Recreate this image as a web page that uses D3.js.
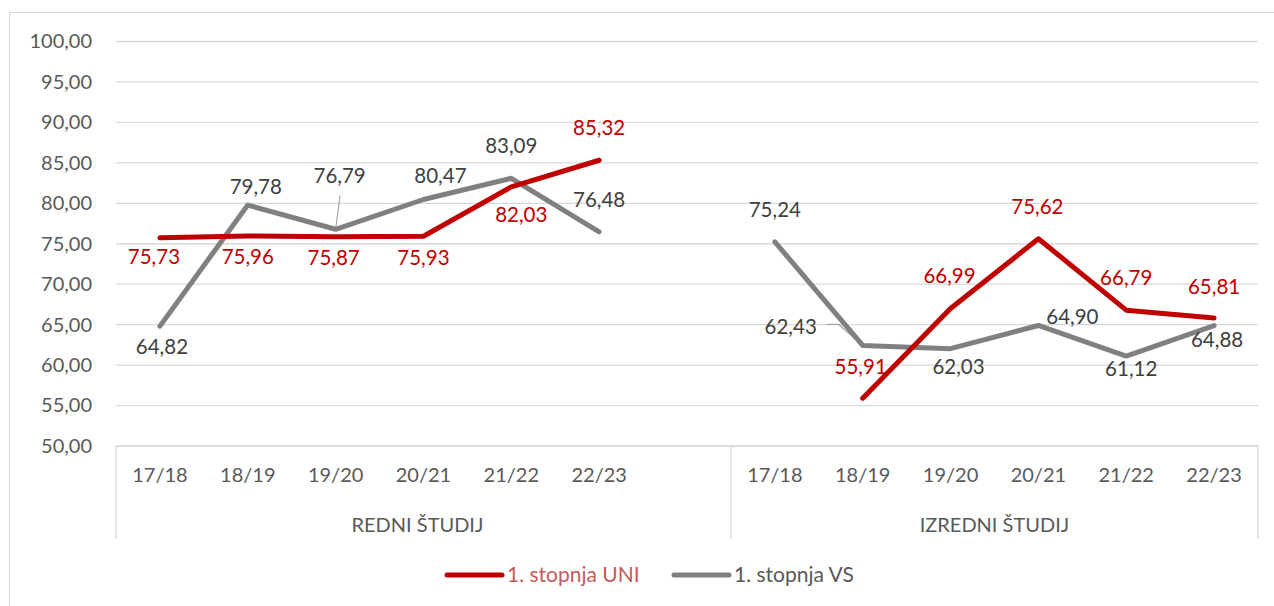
<!DOCTYPE html>
<html>
<head>
<meta charset="utf-8">
<script src="https://cdn.jsdelivr.net/npm/d3@7"></script>
<style>
  html, body { margin: 0; padding: 0; background: #fff; }
  svg { display: block; font-family: Lato, "Open Sans", sans-serif; }
</style>
</head>
<body>
<svg id="chart" width="1274" height="606"></svg>
<script>
// ---- data ----
const groups = ["REDNI ŠTUDIJ", "IZREDNI ŠTUDIJ"];
const years = ["17/18", "18/19", "19/20", "20/21", "21/22", "22/23"];
const uniRedni = [75.73, 75.96, 75.87, 75.93, 82.03, 85.32];
const uniIzredni = [null, 55.91, 66.99, 75.62, 66.79, 65.81];
const vsRedni = [64.82, 79.78, 76.79, 80.47, 83.09, 76.48];
const vsIzredni = [75.24, 62.43, 62.03, 64.90, 61.12, 64.88];
const yTicks = [50, 55, 60, 65, 70, 75, 80, 85, 90, 95, 100];
const seriesNames = ["1. stopnja UNI", "1. stopnja VS"];

// label offsets (px, relative to point) – layout only; [redni..., izredni...]
const uniOffsetsR = [[-6, 19], [0, 21], [-2, 21], [0, 22], [10, 28], [0, -32]];
const uniOffsetsI = [null, [-2, -31], [-1, -33], [-1, -32], [0, -32], [0, -31]];
const vsOffsetsR = [[2, 21], [8, -18], [4, -53], [17, -24], [0, -32], [0, -32]];
const vsOffsetsI = [[0, -32], [-72, -19], [8, 18], [34, -9], [5, 13], [3, 14]];

// ---- build slots: 6 redni + 1 empty + 6 izredni ----
const slots = [];
years.forEach((yr, i) => slots.push({ key: "R" + i, year: yr, uni: uniRedni[i], vs: vsRedni[i], uo: uniOffsetsR[i], vo: vsOffsetsR[i] }));
slots.push({ key: "gap", year: "", uni: null, vs: null, uo: null, vo: null });
years.forEach((yr, i) => slots.push({ key: "I" + i, year: yr, uni: uniIzredni[i], vs: vsIzredni[i], uo: uniOffsetsI[i], vo: vsOffsetsI[i] }));

const svg = d3.select("#chart");
const plotL = 116, plotR = 1258, plotT = 41.5, plotB = 446;

const x = d3.scaleBand().domain(slots.map(d => d.key)).range([plotL, plotR]).paddingInner(0).paddingOuter(0);
const cx = k => x(k) + x.bandwidth() / 2;
const y = d3.scaleLinear().domain([50, 100]).range([plotB, plotT]);

const fmt = v => d3.format(".2f")(v).replace(".", ",");

// frame
svg.append("rect").attr("x", 9.5).attr("y", 12.5).attr("width", 1280).attr("height", 600)
  .attr("fill", "none").attr("stroke", "#d9d9d9").attr("stroke-width", 1);

// gridlines
svg.append("g").selectAll("line").data(yTicks).join("line")
  .attr("x1", plotL).attr("x2", plotR)
  .attr("y1", d => y(d)).attr("y2", d => y(d))
  .attr("stroke", "#d9d9d9").attr("stroke-width", 1.3);

// y axis labels
const yAxis = d3.axisLeft(y).tickValues(yTicks).tickFormat(fmt).tickSize(0).tickPadding(24);
const yg = svg.append("g").attr("transform", `translate(${plotL},0)`).call(yAxis);
yg.select(".domain").remove();
yg.selectAll("text").attr("fill", "#595959").style("font-size", "20px").style("font-family", "Lato, sans-serif");

// category axis
const xAxis = d3.axisBottom(x).tickFormat(k => slots.find(s => s.key === k).year).tickSize(0).tickPadding(22);
const xg = svg.append("g").attr("transform", `translate(0,${plotB})`).call(xAxis);
xg.select(".domain").remove();
xg.selectAll("text").attr("fill", "#595959").style("font-size", "20px").style("font-family", "Lato, sans-serif");

// group separators
const sepX = [plotL, x("I0"), plotR];
svg.append("g").selectAll("line").data(sepX).join("line")
  .attr("x1", d => d).attr("x2", d => d).attr("y1", plotB).attr("y2", 539)
  .attr("stroke", "#d9d9d9").attr("stroke-width", 1.3);
svg.append("line").attr("x1", plotL).attr("x2", plotR).attr("y1", plotB).attr("y2", plotB)
  .attr("stroke", "#d9d9d9").attr("stroke-width", 1.3);

// group labels
const groupSpans = [[plotL, x("I0")], [x("I0"), plotR]];
svg.append("g").selectAll("text").data(groups).join("text")
  .attr("x", (d, i) => (groupSpans[i][0] + groupSpans[i][1]) / 2 - (i === 0 ? 6 : 0))
  .attr("y", 525).attr("dy", "0.35em").attr("text-anchor", "middle")
  .attr("fill", "#595959").style("font-size", "20px")
  .text(d => d);

// lines
const colors = { uni: "#c00000", vs: "#808080" };
function drawLine(field) {
  const line = d3.line().defined(d => d[field] != null)
    .x(d => cx(d.key)).y(d => y(d[field]));
  svg.append("path").datum(slots).attr("d", line)
    .attr("fill", "none").attr("stroke", colors[field]).attr("stroke-width", 5)
    .attr("stroke-linecap", "round").attr("stroke-linejoin", "round");
}

// leader lines (drawn under)
const leaders = svg.append("g");
function leader(pts) {
  leaders.append("polyline").attr("points", pts.map(p => p.join(",")).join(" "))
    .attr("fill", "none").attr("stroke", "#a6a6a6").attr("stroke-width", 1.2);
}
{
  const s = slots.find(d => d.key === "R2");
  const px = cx(s.key), py = y(s.vs);
  leader([[px + 4.5, py - 34], [px, py]]);
  const s2 = slots.find(d => d.key === "I1");
  const qx = cx(s2.key), qy = y(s2.vs);
  leader([[qx - 36, qy - 21], [qx - 24, qy - 21], [qx, qy]]);
}

drawLine("vs");
drawLine("uni");

// data labels
function drawLabels(field, ofield, color) {
  svg.append("g").selectAll("text").data(slots.filter(d => d[field] != null && d[ofield]))
    .join("text")
    .attr("x", d => cx(d.key) + d[ofield][0])
    .attr("y", d => y(d[field]) + d[ofield][1])
    .attr("dy", "0.35em").attr("text-anchor", "middle")
    .attr("fill", color).style("font-size", "20.5px")
    .text(d => fmt(d[field]));
}
drawLabels("vs", "vo", "#404040");
drawLabels("uni", "uo", "#c00000");

// legend
const legendY = 575;
const legendItems = [
  { name: seriesNames[0], color: colors.uni, text: "#c55a5a", x0: 447 },
  { name: seriesNames[1], color: colors.vs, text: "#595959", x0: 674 }
];
const lg = svg.append("g");
legendItems.forEach(it => {
  lg.append("line").attr("x1", it.x0).attr("x2", it.x0 + 55).attr("y1", legendY).attr("y2", legendY)
    .attr("stroke", it.color).attr("stroke-width", 5).attr("stroke-linecap", "round");
  lg.append("text").attr("x", it.x0 + 60).attr("y", legendY).attr("dy", "0.35em")
    .attr("fill", it.text).style("font-size", "21px").text(it.name);
});
</script>
</body>
</html>
